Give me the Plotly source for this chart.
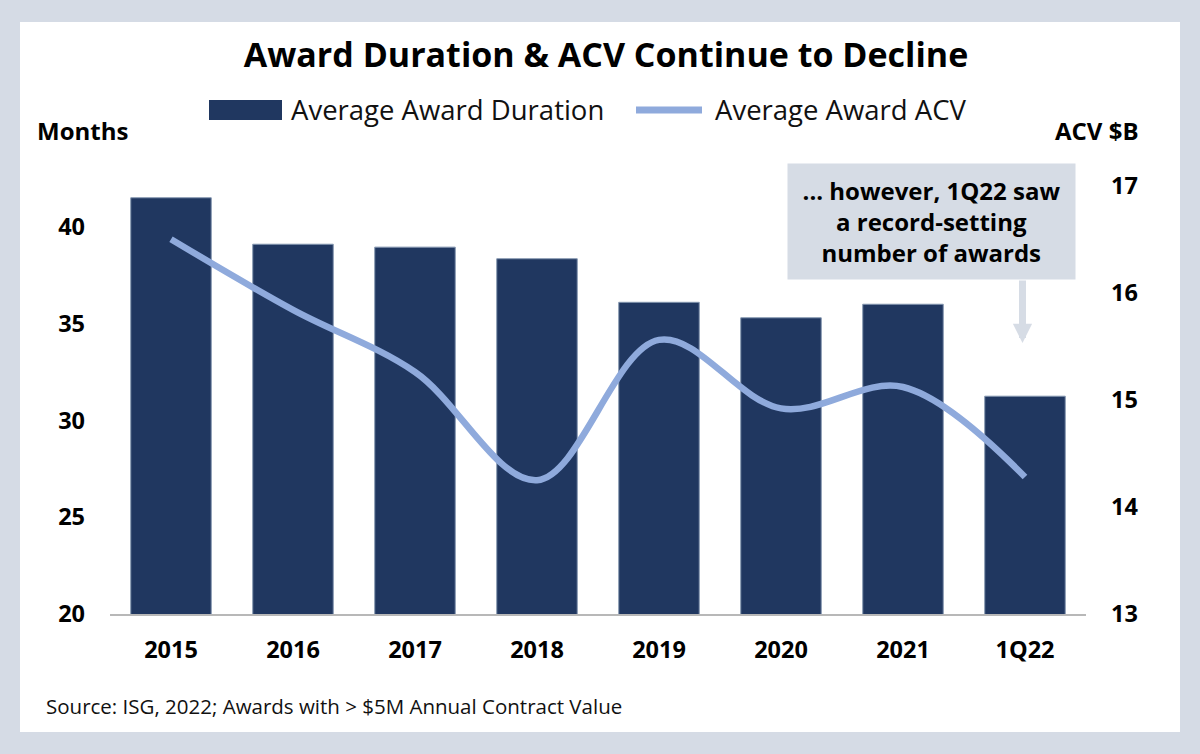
"""
Award duration vs ACV combo chart (bars on left axis, smoothed line on right axis)
"""

import plotly.graph_objects as go

# ---- data ----
periods = ["2015", "2016", "2017", "2018", "2019", "2020", "2021", "1Q22"]
award_duration_months = [41.5, 39.1, 38.95, 38.35, 36.1, 35.3, 36.0, 31.25]
award_acv_billions = [16.5, 15.84, 15.26, 14.25, 15.56, 14.92, 15.12, 14.28]

left_ticks = [20, 25, 30, 35, 40]
right_ticks = [13, 14, 15, 16, 17]

title_text = "Award Duration & ACV Continue to Decline"
source_text = "Source: ISG, 2022; Awards with > $5M Annual Contract Value"
callout_text = "... however, 1Q22 saw<br>a record-setting<br>number of awards"

# ---- style ----
FONT = "Open Sans"
BG = "#d5dbe5"
BAR = "#203760"
LINE = "#8faadc"
CALLOUT = "#d6dce5"

W, H = 1200, 754
M_L, M_R, M_T, M_B = 110, 114, 130, 140
PLOT_W = W - M_L - M_R
PLOT_H = H - M_T - M_B


def px_x(px):
    # pixel column -> paper x
    return (px - M_L) / PLOT_W


def px_y(py):
    # pixel row -> paper y
    return (H - M_B - py) / PLOT_H


fig = go.Figure()

fig.add_trace(go.Bar(
    x=periods,
    y=award_duration_months,
    name="Average Award Duration",
    width=0.66,
    marker=dict(color=BAR, line=dict(color="#8497b0", width=1)),
    showlegend=False,
))

fig.add_trace(go.Scatter(
    x=periods,
    y=award_acv_billions,
    name="Average Award ACV",
    yaxis="y2",
    mode="lines",
    line=dict(color=LINE, width=6.5, shape="spline", smoothing=1),
    showlegend=False,
))

# white card behind everything
shapes = [
    dict(type="rect", xref="paper", yref="paper", layer="below",
         x0=px_x(20), x1=px_x(1180), y0=px_y(732), y1=px_y(22),
         fillcolor="white", line=dict(width=0)),
    # hand-drawn legend swatches
    dict(type="rect", xref="paper", yref="paper",
         x0=px_x(209), x1=px_x(282), y0=px_y(120), y1=px_y(100),
         fillcolor=BAR, line=dict(width=0)),
    dict(type="line", xref="paper", yref="paper",
         x0=px_x(636), x1=px_x(702), y0=px_y(110), y1=px_y(110),
         line=dict(color=LINE, width=7)),
]

annotations = [
    dict(text="Average Award Duration", xref="paper", yref="paper",
         x=px_x(289), y=px_y(110), xanchor="left", yanchor="middle",
         showarrow=False, font=dict(family=FONT, size=27.5, color="#111111")),
    dict(text="Average Award ACV", xref="paper", yref="paper",
         x=px_x(713), y=px_y(110), xanchor="left", yanchor="middle",
         showarrow=False, font=dict(family=FONT, size=27.5, color="#111111")),
    dict(text="Months", xref="paper", yref="paper",
         x=px_x(35), y=px_y(130), xanchor="left", yanchor="middle",
         showarrow=False, font=dict(family=FONT, size=24, color="black", weight="bold")),
    dict(text="ACV $B", xref="paper", yref="paper",
         x=px_x(1141), y=px_y(130), xanchor="right", yanchor="middle",
         showarrow=False, font=dict(family=FONT, size=24, color="black", weight="bold")),
    dict(text=callout_text, xref="paper", yref="paper",
         x=px_x(931.5), y=px_y(221.5), xanchor="center", yanchor="middle",
         showarrow=False, width=287, height=115, borderpad=0,
         bgcolor=CALLOUT, align="center",
         font=dict(family=FONT, size=24, color="black", weight="bold")),
    # down arrow from the callout
    dict(text="", xref="paper", yref="paper",
         x=px_x(1022.5), y=px_y(343), showarrow=True,
         ax=0, ay=-64, arrowhead=2, arrowsize=0.55, arrowwidth=7,
         arrowcolor=CALLOUT, standoff=0),
    dict(text=source_text, xref="paper", yref="paper",
         x=px_x(44), y=px_y(706), xanchor="left", yanchor="middle",
         showarrow=False, font=dict(family=FONT, size=20.5, color="#111111")),
]

fig.update_layout(
    width=W,
    height=H,
    margin=dict(l=M_L, r=M_R, t=M_T, b=M_B),
    paper_bgcolor=BG,
    plot_bgcolor="white",
    font=dict(family=FONT, color="black"),
    title=dict(
        text=title_text,
        x=0.505, xanchor="center",
        y=1 - 55 / H, yanchor="middle",
        font=dict(family=FONT, size=34, color="black", weight="bold"),
    ),
    showlegend=False,
    shapes=shapes,
    annotations=annotations,
)

fig.update_xaxes(
    type="category",
    showgrid=False,
    showline=True,
    linecolor="#b8b8b8",
    linewidth=2,
    ticks="",
    ticklabelstandoff=14,
    tickfont=dict(family=FONT, size=23.5, color="black", weight="bold"),
)

fig.update_layout(
    yaxis=dict(
        range=[20, 45],
        tickvals=left_ticks,
        showgrid=False,
        zeroline=False,
        showline=False,
        ticks="",
        ticklabelstandoff=24,
        tickfont=dict(family=FONT, size=23.5, color="black", weight="bold"),
    ),
    yaxis2=dict(
        range=[13, 17.52],
        tickvals=right_ticks,
        overlaying="y",
        side="right",
        showgrid=False,
        zeroline=False,
        showline=False,
        ticks="",
        ticklabelstandoff=24,
        tickfont=dict(family=FONT, size=23.5, color="black", weight="bold"),
    ),
)

# drop the default 8px page margin so the figure sits flush in the window
fig.write_html(
    "out.html",
    config=dict(displayModeBar=False),
    post_script="document.body.style.margin='0';document.body.style.background='%s';" % BG,
)
